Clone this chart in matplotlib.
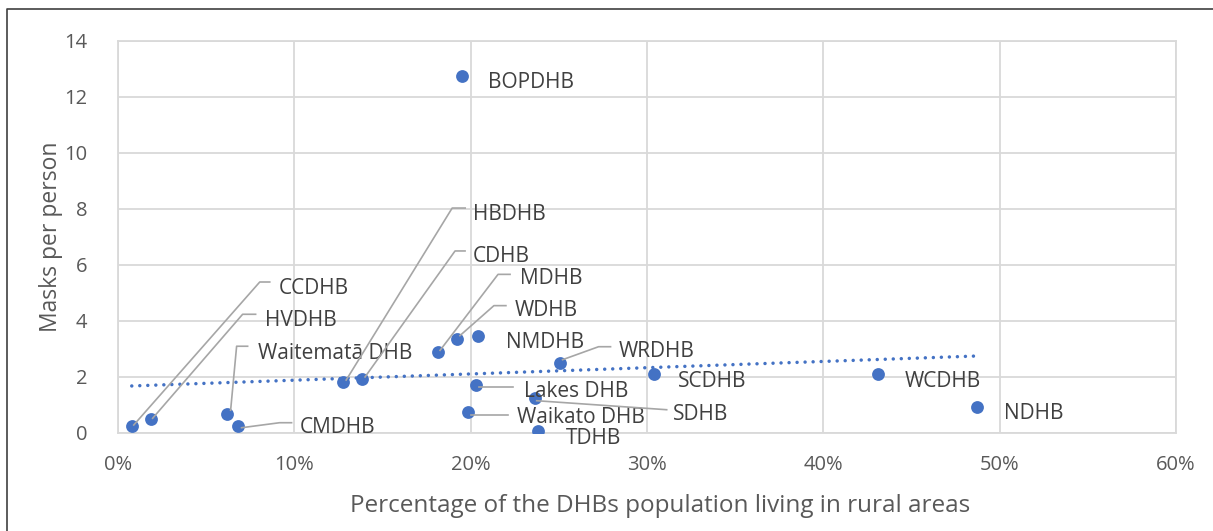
import numpy as np
import matplotlib
matplotlib.use("Agg")
import matplotlib.pyplot as plt
from matplotlib.lines import Line2D

plt.rcParams['font.family'] = ['Open Sans', 'DejaVu Sans']

# share of DHB population living in rural areas (%), masks per person
dhbs = ["CCDHB", "HVDHB", "Waitematā DHB", "CMDHB", "HBDHB", "CDHB", "MDHB",
        "WDHB", "NMDHB", "Lakes DHB", "Waikato DHB", "SDHB", "TDHB", "WRDHB",
        "SCDHB", "WCDHB", "NDHB", "BOPDHB"]
rural_pct = [0.78, 1.85, 6.16, 6.78, 12.77, 13.84, 18.15,
             19.22, 20.4, 20.28, 19.83, 23.63, 23.8, 25.04,
             30.42, 43.1, 48.7, 19.5]
masks = [0.25, 0.49, 0.67, 0.26, 1.82, 1.93, 2.88,
         3.37, 3.47, 1.73, 0.76, 1.26, 0.07, 2.51,
         2.1, 2.1, 0.94, 12.75]

# linear trendline as shown in the chart (ends)
trend_x = [0.78, 48.7]
trend_y = [1.68, 2.75]

x_ticks = [0, 10, 20, 30, 40, 50, 60]
y_ticks = [0, 2, 4, 6, 8, 10, 12, 14]

# label layout, pixel offsets from the marker (x right, y up):
# text position, and optional leader line vertices
label_off = {
    "CCDHB": (147, 141), "HVDHB": (114, 102), "Waitematā DHB": (31, 64),
    "CMDHB": (62, 1), "HBDHB": (130, 171), "CDHB": (111, 125),
    "MDHB": (82, 77), "WDHB": (58, 31), "NMDHB": (28, -4),
    "Lakes DHB": (48, -4), "Waikato DHB": (49, -3), "SDHB": (138, -14),
    "TDHB": (28, -4), "WRDHB": (59, 14), "SCDHB": (24, -4),
    "WCDHB": (27, -4), "NDHB": (27, -4), "BOPDHB": (26, -4),
}
leaders = {
    "CCDHB": [(2, 1), (128, 144), (138, 144)],
    "HVDHB": [(2, 1), (92, 105), (105, 105)],
    "Waitematā DHB": [(4, 4), (10, 68), (21, 68)],
    "CMDHB": [(4, -2), (42, 3), (54, 3)],
    "HBDHB": [(3, 2), (109, 174), (122, 174)],
    "CDHB": [(3, 2), (93, 128), (103, 128)],
    "MDHB": [(2, 2), (60, 78), (72, 78)],
    "WDHB": [(3, 3), (37, 33), (49, 33)],
    "Lakes DHB": [(3, -2), (37, -2)],
    "Waikato DHB": [(3, -3), (40, -3)],
    "SDHB": [(2, -3), (132, -12)],
    "WRDHB": [(3, 3), (39, 16), (51, 16)],
}

blue = "#4472C4"
grid = "#D9D9D9"
txt = "#404040"

fig = plt.figure(figsize=(12.13, 5.31), dpi=100)
ax = fig.add_axes([118 / 1213, 1 - 433 / 531, (1176 - 118) / 1213, (433 - 41) / 531])

ax.plot(trend_x, trend_y, color=blue, lw=2.5,
        linestyle=(0, (0.01, 2.3)), dash_capstyle="round", zorder=2)

ax.scatter(rural_pct, masks, s=85, color=blue, zorder=4, linewidths=0)

ax.set_xlim(0, 60)
ax.set_ylim(0, 14)
ax.set_xticks(x_ticks)
ax.set_xticklabels(["%d%%" % t for t in x_ticks])
ax.set_yticks(y_ticks)
ax.grid(True, color=grid, lw=1.3)
ax.set_axisbelow(True)
for s in ax.spines.values():
    s.set_color(grid)
    s.set_linewidth(1.3)
ax.tick_params(length=0, labelsize=14.5, labelcolor="#595959")
ax.tick_params(axis="y", pad=22)
ax.tick_params(axis="x", pad=16)
ax.set_xlabel("Percentage of the DHBs population living in rural areas",
              fontsize=17.5, color="#595959", labelpad=14)
ax.xaxis.set_label_coords(0.512, -0.155)
ax.set_ylabel("Masks per person", fontsize=16.5, color="#595959", labelpad=1)

fig.canvas.draw()
for name, x, y in zip(dhbs, rural_pct, masks):
    px, py = ax.transData.transform((x, y))
    if name in leaders:
        verts = [(px + dx, py + dy) for dx, dy in leaders[name]]
        vx, vy = zip(*verts)
        fig.add_artist(Line2D(vx, vy, transform=None, color="#A6A6A6",
                              lw=1.2, zorder=3))
    dx, dy = label_off[name]
    ax.annotate(name, (x, y), xytext=(dx, dy - 3), textcoords="offset pixels",
                ha="left", va="center", fontsize=15, color=txt, zorder=5)

# outer chart border
fig.add_artist(Line2D([7 / 1213, 7 / 1213, 1], [0, 1 - 9 / 531, 1 - 9 / 531],
                      transform=fig.transFigure, color="#404040", lw=1.2))

fig.savefig("out.png", dpi=100)
